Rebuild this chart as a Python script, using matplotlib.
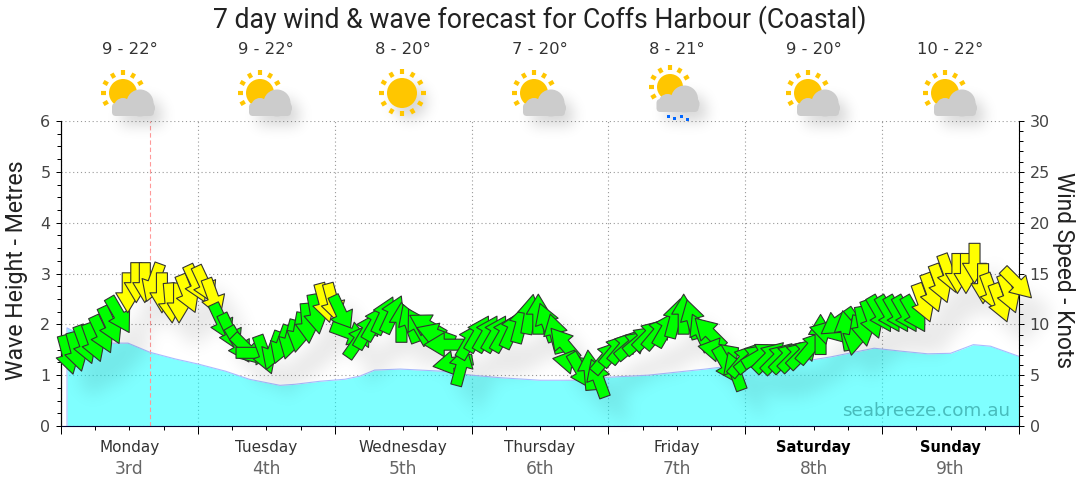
import numpy as np
import matplotlib
matplotlib.use('Agg')
import matplotlib.pyplot as plt
from matplotlib.path import Path
from matplotlib.patches import Circle, Rectangle, FancyBboxPatch
from matplotlib.collections import PatchCollection
from matplotlib.transforms import Affine2D
from matplotlib.ticker import MultipleLocator

days = ['Monday', 'Tuesday', 'Wednesday', 'Thursday', 'Friday', 'Saturday', 'Sunday']
dates = ['3rd', '4th', '5th', '6th', '7th', '8th', '9th']
temps = ['9 - 22°', '9 - 22°', '8 - 20°', '7 - 20°', '8 - 21°', '9 - 20°', '10 - 22°']
icons = ['partly', 'partly', 'sun', 'partly', 'rain', 'partly', 'partly']

# wave height, hours from monday 00:00
wave_hours = [1.05, 2.5, 5, 8.6, 11.75, 15.6, 20, 24, 28.8, 33, 38.4, 41, 45.4, 49.8, 52.4, 55,
              59.5, 66.5, 72, 77, 84, 91, 94.5, 103, 108, 113, 119, 129, 135, 142.6, 147.5,
              152, 156, 160, 163, 168]
wave_m = [1.93, 1.85, 1.72, 1.63, 1.63, 1.45, 1.32, 1.22, 1.08, 0.92, 0.8, 0.82, 0.88, 0.92, 0.98, 1.1,
          1.12, 1.08, 1.0, 0.95, 0.9, 0.9, 0.95, 1.0, 1.06, 1.12, 1.2, 1.25, 1.36, 1.53, 1.47,
          1.42, 1.43, 1.6, 1.57, 1.37]

# wind, 1.5 hourly
wind_kn = [7.0, 7.3, 8.0, 8.2, 9.0, 9.9, 10.9, 13.1, 14.1, 14.1, 14.1, 13.1, 12.1, 12.1, 13.0, 14.0,
           13.9, 12.6, 10.2, 9.2, 8.0, 7.5, 7.2, 7.0, 7.4, 8.0, 8.5, 9.2, 10.1, 11.0, 12.1, 12.1,
           11.0, 9.1, 8.4, 9.4, 10.2, 10.9, 11.0, 10.2, 10.1, 9.8, 9.9, 9.0, 8.0, 6.2, 5.9, 8.4,
           9.1, 9.1, 9.1, 9.1, 9.5, 10.1, 11.0, 11.0, 10.2, 9.1, 8.1, 6.3, 5.4, 5.5, 4.7, 6.8,
           7.5, 7.8, 8.0, 8.5, 9.0, 9.2, 9.6, 10.6, 11.0, 10.5, 9.2, 9.2, 7.5, 6.0, 5.4, 6.5,
           6.7, 7.0, 6.8, 6.7, 6.8, 6.9, 7.2, 7.8, 9.0, 9.2, 10.2, 9.4, 8.9, 9.8, 10.5, 11.0,
           11.0, 11.0, 11.0, 11.0, 12.1, 13.1, 14.0, 15.0, 15.0, 15.0, 16.0, 14.0, 13.1, 12.1, 13.0, 14.0]
# direction the arrow points, compass degrees
wind_dir = [165, 165, 160, 160, 155, 155, 150, 180, 180, 180, 200, 180, 175, 180, 158, 155,
            155, 160, 155, 155, 150, 135, 90, 160, 200, 200, 195, 190, 175, 170, 165, 165,
            155, 110, 35, 30, 30, 25, 25, 0, 340, 330, 300, 290, 270, 260, 15, 30,
            30, 30, 30, 30, 25, 15, 10, 0, 340, 345, 320, 280, 150, 355, 340, 40,
            40, 40, 50, 50, 45, 40, 30, 15, 0, 345, 335, 315, 280, 150, 340, 40,
            50, 60, 45, 45, 45, 45, 45, 40, 0, 285, 235, 350, 190, 170, 160, 150,
            150, 150, 150, 150, 160, 160, 160, 160, 180, 180, 180, 180, 160, 160, 160, 135]
wind_hours = 1.2 + 1.5 * np.arange(len(wind_kn))
now_hour = 15.6

PX = 0.72  # pixels to points at dpi 100


def gauss_kernel(sigma):
    r = int(sigma * 3)
    k = np.exp(-0.5 * (np.arange(-r, r + 1) / sigma) ** 2)
    return k / k.sum()


def shadow_filter(dx, dy, sigma, strength):
    # blurred grey copy of whatever was drawn, moved by dx, dy pixels
    def process(im, dpi):
        pad = int(sigma * 3) + 2
        a = np.pad(im[:, :, 3], pad)
        k = gauss_kernel(sigma)
        a = np.apply_along_axis(lambda c: np.convolve(c, k, mode='same'), 0, a)
        a = np.apply_along_axis(lambda c: np.convolve(c, k, mode='same'), 1, a)
        out = np.zeros(a.shape + (4,))
        out[:, :, 3] = np.clip(a * strength, 0, 1)
        return out, dx - pad, -dy - pad
    return process


def arrow_paths(dirs):
    # arrow pointing up, size in pixels
    verts = np.array([(-5.5, -20), (5.5, -20), (5.5, 0), (12, 0), (0, 20), (-12, 0), (-5.5, 0), (-5.5, -20)]) * PX
    base = Path(verts, closed=True)
    return [base.transformed(Affine2D().rotate_deg(-d)) for d in dirs]


fig = plt.figure(figsize=(10.8, 4.9), dpi=100)
ax = fig.add_axes([61 / 1080, (490 - 426) / 490, 958 / 1080, 305 / 490])
ax.set_xlim(0, 168)
ax.set_ylim(0, 6)

ax.grid(True, which='major', color='#999999', linestyle=(0, (1, 2.5)), linewidth=0.8)
ax.set_axisbelow(True)
ax.set_xticks(np.arange(0, 169, 24))
ax.set_xticks(np.arange(0, 169, 6), minor=True)
ax.set_xticklabels([])
ax.yaxis.set_major_locator(MultipleLocator(1))
ax.yaxis.set_minor_locator(MultipleLocator(0.25))
ax.tick_params(axis='x', which='major', length=8 * PX, width=PX, color='black')
ax.tick_params(axis='x', which='minor', length=3.5 * PX, width=PX, color='black')
ax.tick_params(axis='y', which='major', length=5 * PX, width=PX, labelsize=11.5, labelcolor='#444444', pad=4)
ax.tick_params(axis='y', which='minor', length=4 * PX, width=PX)
ax.spines['top'].set_visible(False)
ax.spines['right'].set_visible(False)
ax.spines['bottom'].set_color('#000033')
ax.set_ylabel('Wave Height - Metres', fontsize=16.7, color='#222222', labelpad=9, family='Roboto', y=0.51)

ax.axvline(now_hour, color='#FF9999', linestyle=(0, (4, 2.5)), linewidth=0.8)
ax.fill_between(wave_hours, wave_m, color='#00FFFF', alpha=0.5, linewidth=0)
ax.plot([wave_hours[0]] + wave_hours, [0] + wave_m, color='#AABBFF', linewidth=0.8)

ax.text(0.991, 0.05, 'seabreeze.com.au', transform=ax.transAxes, ha='right', va='center',
        fontsize=13.2, color='#48BCBC')

for i in range(7):
    hour = 12 + 24 * i
    weight = 'bold' if days[i] in ('Saturday', 'Sunday') else 'normal'
    ax.annotate(days[i], (hour, 0), xycoords=('data', 'axes fraction'), xytext=(0, -21 * PX),
                textcoords='offset points', ha='center', va='center',
                fontsize=11 if weight == 'normal' else 10.5,
                color='#333333' if weight == 'normal' else 'black', fontweight=weight)
    ax.annotate(dates[i], (hour, 0), xycoords=('data', 'axes fraction'), xytext=(0, -43 * PX),
                textcoords='offset points', ha='center', va='center', fontsize=12.3, color='#666666')
    ax.annotate(temps[i], (hour, 1), xycoords=('data', 'axes fraction'), xytext=(0, 71 * PX),
                textcoords='offset points', ha='center', va='center', fontsize=11.8, color='#333333')

# wind on the second axis
ax2 = ax.twinx()
ax2.set_ylim(0, 30)
ax2.yaxis.set_major_locator(MultipleLocator(5))
ax2.yaxis.set_minor_locator(MultipleLocator(1))
ax2.tick_params(axis='y', which='major', length=5 * PX, width=PX, labelsize=11.5, labelcolor='#444444', pad=4)
ax2.tick_params(axis='y', which='minor', length=4 * PX, width=PX)
ax2.spines['top'].set_visible(False)
ax2.spines['bottom'].set_visible(False)
ax2.set_ylabel('Wind Speed - Knots', fontsize=16.4, color='#222222', rotation=270, labelpad=18, family='Roboto', y=0.51)

paths = arrow_paths(wind_dir)
arrow_cols = ['#FFFF00' if w > 11.5 else '#00FF00' for w in wind_kn]

shadow = ax2.scatter(wind_hours, wind_kn, s=1, color='black', linewidths=0, clip_on=False, zorder=2)
shadow.set_paths(paths)
shadow.set_agg_filter(shadow_filter(10, 12, 6, 0.3))

arrows = ax2.scatter(wind_hours, wind_kn, s=1, c=arrow_cols, edgecolors='#333333', linewidths=0.8,
                     clip_on=False, zorder=3)
arrows.set_paths(paths)

# pixel overlay for the weather icons
over = fig.add_axes([0, 0, 1, 1])
over.set_xlim(0, 1080)
over.set_ylim(490, 0)
over.axis('off')
over.patch.set_alpha(0)


def cloud_parts(cx, cy):
    # cx, cy is the middle of the cloud base
    return [Circle((cx + 7, cy - 13), 13.5),
            Circle((cx - 10, cy - 9), 9),
            Circle((cx + 14, cy - 8), 8),
            FancyBboxPatch((cx - 17, cy - 9), 34, 5, boxstyle='round,pad=4')]


def draw_sun(sx, sy, r, rays):
    over.add_patch(Circle((sx, sy), r, color='#FFC600', lw=0, zorder=4))
    for ang in rays:
        a = np.deg2rad(ang)
        over.plot([sx + (r + 3.5) * np.sin(a), sx + (r + 8.5) * np.sin(a)],
                  [sy - (r + 3.5) * np.cos(a), sy - (r + 8.5) * np.cos(a)],
                  color='#FFC600', lw=3, solid_capstyle='butt', zorder=4)


def draw_icon(cx, kind):
    if kind == 'sun':
        sx, sy = cx - 2, 93
        sh = over.add_patch(Circle((sx, sy), 17, color='black', lw=0, zorder=3))
        sh.set_agg_filter(shadow_filter(8, 9, 7, 0.16))
        draw_sun(sx, sy, 15, range(0, 360, 30))
        return
    if kind == 'rain':
        sx, sy, r, bx, by = cx - 7, 87, 13, cx + 0.5, 112
    else:
        sx, sy, r, bx, by = cx - 7, 93, 14, cx + 3, 116
    sh = PatchCollection(cloud_parts(bx, by), facecolor='black', edgecolor='none', zorder=3)
    over.add_collection(sh)
    sh.set_agg_filter(shadow_filter(8, 9, 7, 0.16))
    draw_sun(sx, sy, r, [240, 270, 300, 330, 0, 30, 60])
    for p in cloud_parts(bx, by):
        p.set(facecolor='#CCCCCC', edgecolor='none', zorder=5)
        over.add_patch(p)
    if kind == 'rain':
        for dx, dy in [(-9, 4), (-3, 6), (4, 4), (10, 7)]:
            over.add_patch(Rectangle((bx + dx - 1.5, by + dy - 1.5), 3, 3, color='#0066FF', lw=0, zorder=5))


day_px = [130, 267, 404, 541, 677, 815, 952]
for x, kind in zip(day_px, icons):
    draw_icon(x, kind)

over.text(540, 20, '7 day wind & wave forecast for Coffs Harbour (Coastal)', ha='center', va='center',
          fontsize=19.2, color='#222222', family='Roboto')

fig.savefig('out.png', dpi=100)
